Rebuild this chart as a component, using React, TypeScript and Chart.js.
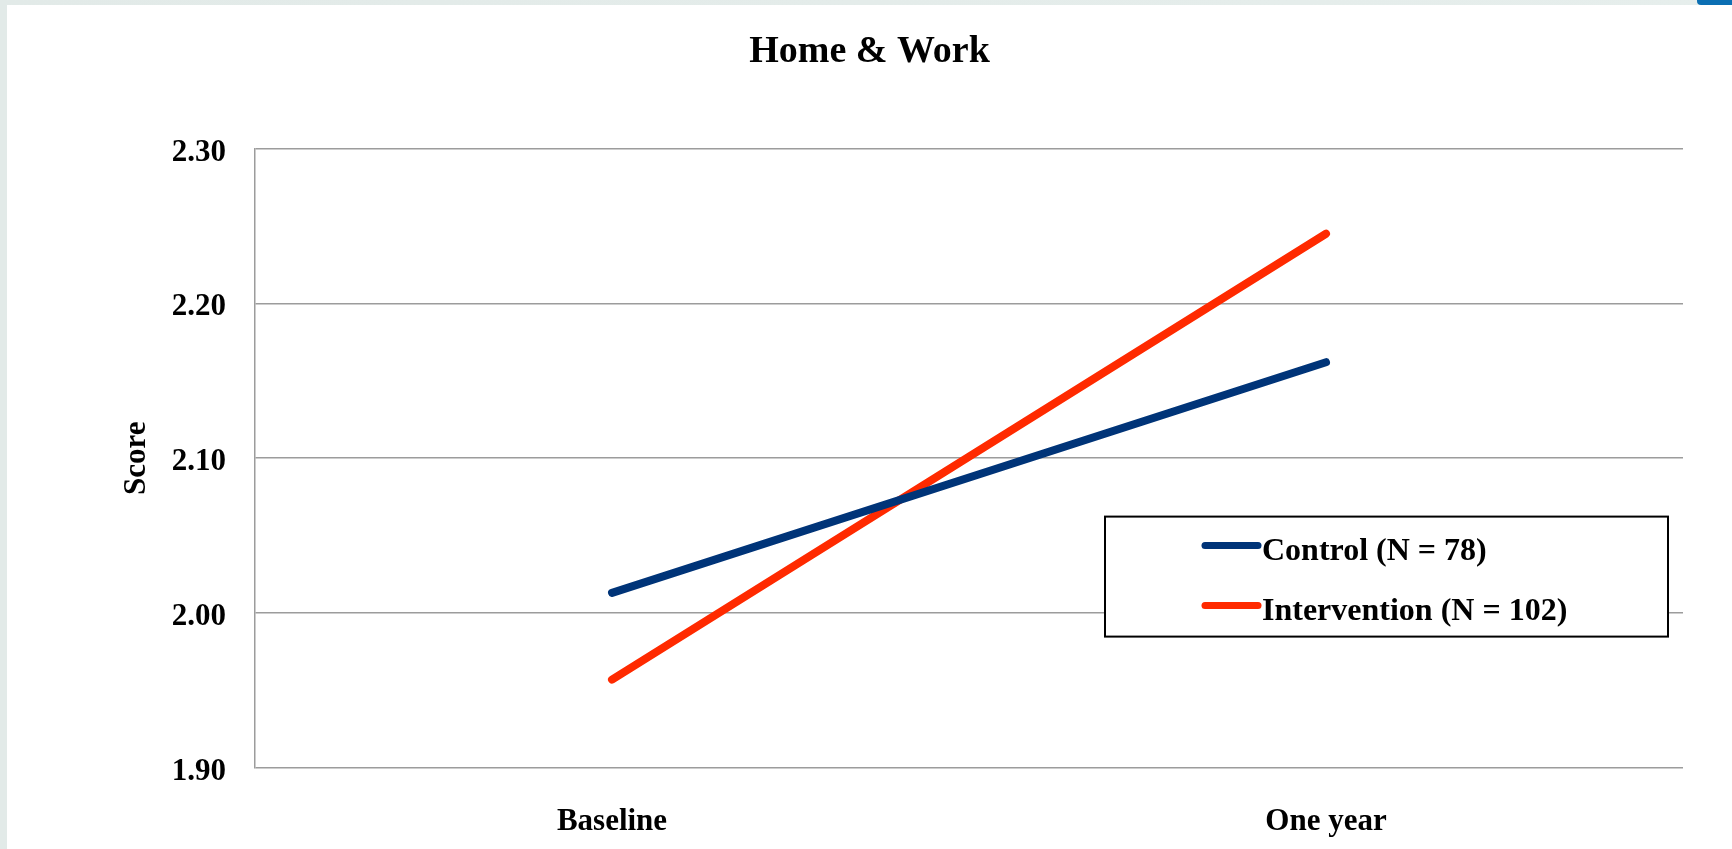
import React, { useEffect, useRef } from "react";
import { Chart, registerables } from "chart.js";

Chart.register(...registerables);

const categories = ["Baseline", "One year"];
const controlValues = [2.013, 2.162];
const interventionValues = [1.957, 2.245];
const seriesLabels = ["Control (N = 78)", "Intervention (N = 102)"];
const chartTitle = "Home & Work";
const yTitle = "Score";
const yMin = 1.9;
const yMax = 2.3;
const yStep = 0.1;

const FONT = "'Liberation Serif', 'Times New Roman', serif";
const GRID = "#9c9c9c";

const boxedLegend = {
  id: "boxedLegend",
  afterDraw(chart: any) {
    const ctx = chart.ctx;
    const area = chart.chartArea;
    const x0 = area.left + 850;
    const y0 = area.top + 368;
    const w = 563;
    const h = 120;
    ctx.save();
    ctx.fillStyle = "#ffffff";
    ctx.fillRect(x0, y0, w, h);
    ctx.strokeStyle = "#000000";
    ctx.lineWidth = 2;
    ctx.strokeRect(x0, y0, w, h);
    chart.data.datasets.forEach((ds: any, i: number) => {
      const y = y0 + 29 + i * 60;
      ctx.beginPath();
      ctx.strokeStyle = ds.borderColor;
      ctx.lineWidth = 7;
      ctx.lineCap = "round";
      ctx.moveTo(x0 + 100, y);
      ctx.lineTo(x0 + 153, y);
      ctx.stroke();
      ctx.fillStyle = "#000000";
      ctx.font = `bold 32px ${FONT}`;
      ctx.textAlign = "left";
      ctx.textBaseline = "middle";
      ctx.fillText(ds.label, x0 + 157, y + 6);
    });
    ctx.restore();
  },
};

export default function App() {
  const ref = useRef<HTMLCanvasElement | null>(null);

  useEffect(() => {
    if (!ref.current) return;
    const chart = new Chart(ref.current, {
      type: "line",
      data: {
        labels: categories,
        datasets: [
          {
            label: seriesLabels[0],
            data: controlValues,
            borderColor: "#003478",
            backgroundColor: "#003478",
            borderWidth: 8,
            borderCapStyle: "round",
            pointRadius: 0,
            tension: 0,
          },
          {
            label: seriesLabels[1],
            data: interventionValues,
            borderColor: "#ff2a00",
            backgroundColor: "#ff2a00",
            borderWidth: 8,
            borderCapStyle: "round",
            pointRadius: 0,
            tension: 0,
          },
        ],
      },
      options: {
        animation: false,
        responsive: false,
        layout: { padding: { left: 49, right: 49, top: 0, bottom: -28 } },
        plugins: {
          legend: { display: false },
          tooltip: { enabled: false },
          title: {
            display: true,
            text: chartTitle,
            color: "#000000",
            font: { family: FONT, size: 38, weight: "bold" },
            padding: { top: 24, bottom: 74 },
          },
        },
        scales: {
          x: {
            type: "category",
            offset: true,
            grid: { display: false, drawTicks: false },
            border: { display: false },
            ticks: {
              color: "#000000",
              padding: 36,
              font: { family: FONT, size: 31, weight: "bold" },
            },
          },
          y: {
            min: yMin,
            max: yMax,
            afterFit: (scale: any) => {
              scale.width = 199;
            },
            grid: { color: GRID, lineWidth: 1.5, drawTicks: false },
            border: { display: true, color: GRID, width: 1.5 },
            ticks: {
              stepSize: yStep,
              color: "#000000",
              padding: 29,
              labelOffset: 4,
              font: { family: FONT, size: 31, weight: "bold" },
              callback: (v: any) => Number(v).toFixed(2),
            },
            title: {
              display: true,
              text: yTitle,
              color: "#000000",
              font: { family: FONT, size: 31, weight: "bold" },
              padding: { top: 62, bottom: 0 },
            },
          },
        },
      },
      plugins: [boxedLegend],
    });
    return () => chart.destroy();
  }, []);

  return (
    <div
      style={{
        position: "fixed",
        left: 0,
        top: 0,
        width: 1732,
        height: 849,
        background: "linear-gradient(90deg, #e2eae8, #e6eeec)",
        overflow: "hidden",
      }}
    >
      <div
        style={{
          position: "absolute",
          left: 1697,
          top: 0,
          width: 35,
          height: 5,
          background: "#0b6fb3",
          borderBottomLeftRadius: 4,
        }}
      />
      <div
        style={{
          position: "absolute",
          left: 7,
          top: 5,
          width: 1725,
          height: 844,
          background: "#ffffff",
        }}
      >
        <canvas ref={ref} width={1725} height={844} style={{ display: "block", width: 1725, height: 844 }} />
      </div>
    </div>
  );
}
